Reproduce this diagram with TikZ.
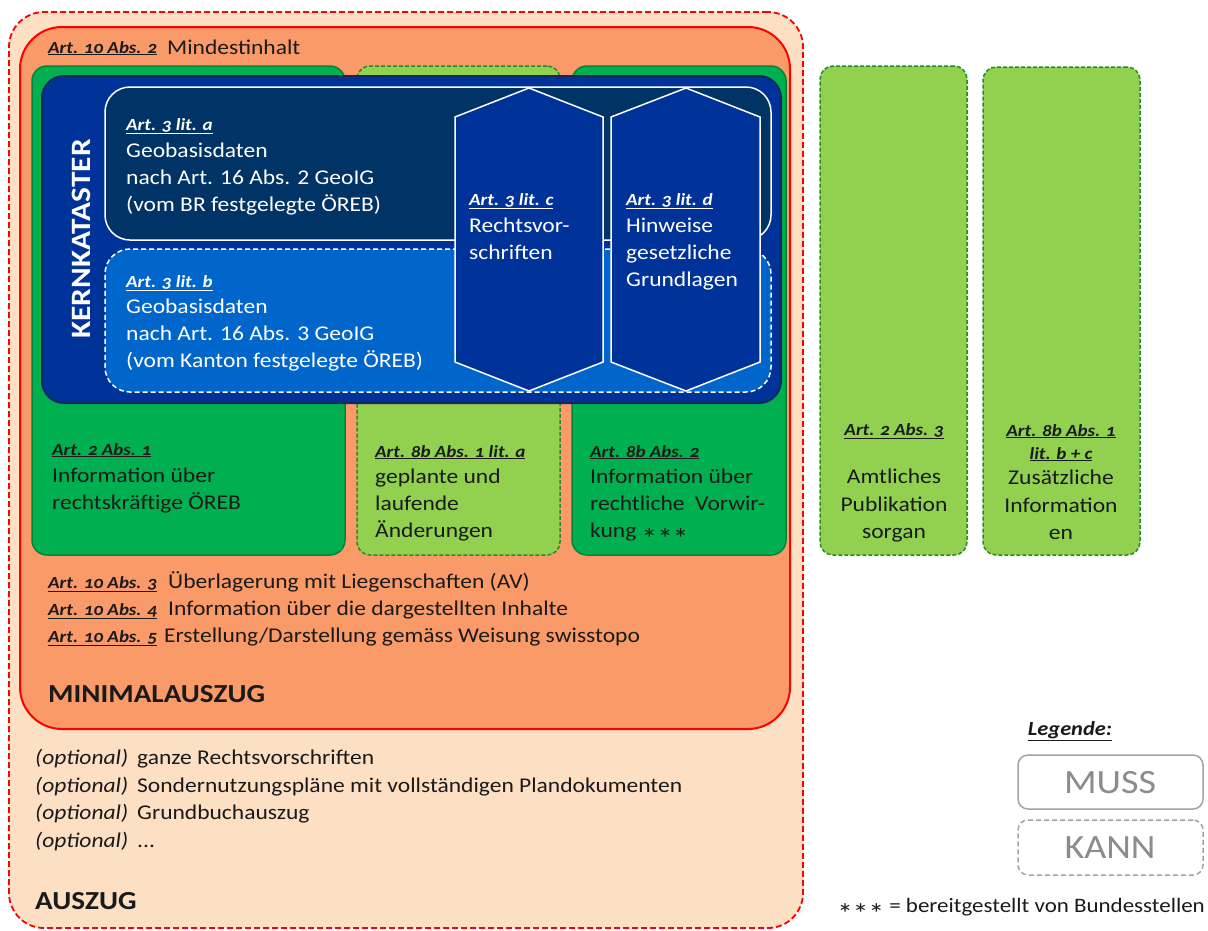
\documentclass[tikz,border=0pt]{standalone}
\usepackage{fontspec}
\setmainfont[FakeStretch=1.12]{Carlito}
\definecolor{peach}{HTML}{FDDFC4}
\definecolor{orng}{HTML}{F99A68}
\definecolor{dgreen}{HTML}{00B050}
\definecolor{dgreenb}{HTML}{00843C}
\definecolor{lgreen}{HTML}{92D050}
\definecolor{lgreenb}{HTML}{2A8A2A}
\definecolor{kblue}{HTML}{003399}
\definecolor{kblueb}{HTML}{15285E}
\definecolor{navy}{HTML}{003366}
\definecolor{mblue}{HTML}{0066CC}
\definecolor{txt}{HTML}{1A1A1A}
\definecolor{leg}{HTML}{8C8C8C}
\newcommand{\art}[1]{\underline{#1}}
\newcommand{\stars}{{\fontsize{28}{30}\selectfont\raisebox{-0.4em}{***}}}
\begin{document}
\begin{tikzpicture}[x=1pt,y=-1pt,
  box/.style={inner sep=0pt, outer sep=0pt, anchor=north west, rectangle},
  solidgreen/.style={box, fill=dgreen, draw=dgreenb, line width=1.5pt, rounded corners=15pt},
  dashgreen/.style={box, fill=lgreen, draw=lgreenb, line width=1.5pt, dash pattern=on 4pt off 2pt, rounded corners=13pt},
  lbl/.style={anchor=base west, inner sep=0pt, text=txt, font=\fontsize{17}{20}\selectfont\bfseries\itshape\addfontfeatures{Numbers=OldStyle}},
  body/.style={anchor=base west, inner sep=0pt, text=txt, font=\fontsize{21}{27}\selectfont},
  wlbl/.style={lbl, text=white},
  wbody/.style={body, text=white},
  clbl/.style={lbl, anchor=base},
  cbody/.style={body, anchor=base},
  hexa/.style={fill=kblue, draw=white, line width=1.5pt, line join=miter},
  legbox/.style={box, fill=white, draw=leg!80, line width=1.5pt, rounded corners=10pt},
  legtxt/.style={anchor=base, inner sep=0pt, text=leg, font=\fontsize{34}{40}\selectfont}
]
\useasboundingbox (0,0) rectangle (1208,930);

% outer AUSZUG
\node[box, fill=peach, draw=red, line width=1.8pt, dash pattern=on 6pt off 3pt, rounded corners=35pt,
      minimum width=794pt, minimum height=916pt] (auszug) at (9,12) {};
% MINIMALAUSZUG
\node[box, fill=orng, draw=red, line width=2pt, rounded corners=42pt,
      minimum width=770pt, minimum height=702pt] (minimal) at (20,27) {};

% green columns
\node[solidgreen, minimum width=313pt, minimum height=489pt] (g1) at (32,66) {};
\node[dashgreen, minimum width=203pt, minimum height=489pt] (g2) at (357,66) {};
\node[solidgreen, minimum width=214pt, minimum height=489pt] (g3) at (572,66) {};

% Kernkataster
\node[box, fill=kblue, draw=kblueb, line width=2pt, rounded corners=22pt,
      minimum width=739pt, minimum height=327pt] (kern) at (42,76) {};
\node[box, fill=navy, draw=white, line width=1.5pt, rounded corners=25pt,
      minimum width=666pt, minimum height=153pt] (lita) at (105,87) {};
\node[box, fill=mblue, draw=white, line width=1.5pt, dash pattern=on 5pt off 3pt, rounded corners=25pt,
      minimum width=666pt, minimum height=143pt] (litb) at (105,249) {};
\draw[hexa] (455,117) -- (529,88) -- (603,117) -- (603,362) -- (529,391) -- (455,362) -- cycle;
\draw[hexa] (611,117) -- (686,88) -- (760,117) -- (760,362) -- (686,391) -- (611,362) -- cycle;

\node[rotate=90, inner sep=0pt, text=white, font=\fontsize{28}{32}\selectfont\bfseries] (kk) at (81,239) {KERNKATASTER};

% right columns
\node[dashgreen, minimum width=147pt, minimum height=489pt] (g4) at (820,66) {};
\node[dashgreen, minimum width=157pt, minimum height=488pt] (g5) at (983,67) {};

% texts: Mindestinhalt
\node[lbl] (l102) at (48,53) {\art{Art. 10 Abs. 2}};
\node[body] (t102) at (167,54) {Mindestinhalt};

% lit a
\node[wlbl] (la0) at (126,130) {\art{Art. 3 lit. a}};
\node[wbody] (la1) at (126,157) {Geobasisdaten};
\node[wbody] (la2) at (126,184) {nach Art. 16 Abs. 2 GeoIG};
\node[wbody] (la3) at (126,211) {(vom BR festgelegte ÖREB)};
% lit b
\node[wlbl] (lb0) at (126,287) {\art{Art. 3 lit. b}};
\node[wbody] (lb1) at (126,313) {Geobasisdaten};
\node[wbody] (lb2) at (126,340) {nach Art. 16 Abs. 3 GeoIG};
\node[wbody] (lb3) at (126,367) {(vom Kanton festgelegte ÖREB)};
% lit c
\node[wlbl] (lc0) at (469,205) {\art{Art. 3 lit. c}};
\node[wbody] (lc1) at (469,232) {Rechtsvor-};
\node[wbody] (lc2) at (469,259) {schriften};
% lit d
\node[wlbl] (ld0) at (626,205) {\art{Art. 3 lit. d}};
\node[wbody] (ld1) at (626,232) {Hinweise};
\node[wbody] (ld2) at (626,259) {gesetzliche};
\node[wbody] (ld3) at (626,286) {Grundlagen};

% green 1
\node[lbl] (g1l) at (52,455) {\art{Art. 2 Abs. 1}};
\node[body] (g1a) at (52,482) {Information über};
\node[body] (g1b) at (52,509) {rechtskräftige ÖREB};
% green 2
\node[lbl] (g2l) at (375,457) {\art{Art. 8b Abs. 1 lit. a}};
\node[body] (g2a) at (375,483) {geplante und};
\node[body] (g2b) at (375,510) {laufende};
\node[body] (g2c) at (375,537) {Änderungen};
% green 3
\node[lbl] (g3l) at (590,457) {\art{Art. 8b Abs. 2}};
\node[body] (g3a) at (590,483) {Information über};
\node[body] (g3b) at (590,510) {rechtliche\ \ Vorwir-};
\node[body] (g3c) at (590,537) {kung \stars};
% green 4
\node[clbl] (g4l) at (894,435) {\art{Art. 2 Abs. 3}};
\node[cbody] (g4a) at (894,483) {Amtliches};
\node[cbody] (g4b) at (894,511) {Publikation};
\node[cbody] (g4c) at (894,538) {sorgan};
% green 5
\node[clbl] (g5l) at (1061,436) {\art{Art. 8b Abs. 1}};
\node[clbl] (g5m) at (1061,459) {\art{lit. b + c}};
\node[cbody] (g5a) at (1061,484) {Zusätzliche};
\node[cbody] (g5b) at (1061,512) {Information};
\node[cbody] (g5c) at (1061,539) {en};

% lower minimal lines
\node[lbl] (l103) at (48,588) {\art{Art. 10 Abs. 3}};
\node[body] (t103) at (168,588) {Überlagerung mit Liegenschaften (AV)};
\node[lbl] (l104) at (48,615) {\art{Art. 10 Abs. 4}};
\node[body] (t104) at (168,615) {Information über die dargestellten Inhalte};
\node[lbl] (l105) at (48,642) {\art{Art. 10 Abs. 5}};
\node[body] (t105) at (164,642) {Erstellung/Darstellung gemäss Weisung swisstopo};
\node[body, font=\fontsize{26}{30}\selectfont\bfseries] (minlbl) at (48,702) {MINIMALAUSZUG};

% optional lines
\node[body, font=\fontsize{21}{27}\selectfont\itshape] (o1) at (35,764) {(optional)};
\node[body] (o1t) at (137,764) {ganze Rechtsvorschriften};
\node[body, font=\fontsize{21}{27}\selectfont\itshape] (o2) at (35,792) {(optional)};
\node[body] (o2t) at (137,792) {Sondernutzungspläne mit vollständigen Plandokumenten};
\node[body, font=\fontsize{21}{27}\selectfont\itshape] (o3) at (35,819) {(optional)};
\node[body] (o3t) at (137,819) {Grundbuchauszug};
\node[body, font=\fontsize{21}{27}\selectfont\itshape] (o4) at (35,847) {(optional)};
\node[body] (o4t) at (137,847) {...};
\node[body, font=\fontsize{26}{30}\selectfont\bfseries] (auslbl) at (35,909) {AUSZUG};

% legend
\node[lbl, anchor=base, font=\fontsize{20}{24}\selectfont\bfseries\itshape] (legt) at (1070,735) {\art{Legende:}};
\node[legbox, minimum width=185pt, minimum height=54pt] (muss) at (1018,755) {};
\node[legtxt] (musst) at (1110,793) {MUSS};
\node[legbox, dash pattern=on 5pt off 3pt, minimum width=185pt, minimum height=55pt] (kann) at (1018,820) {};
\node[legtxt] (kannt) at (1110,858) {KANN};
\node[body, anchor=base east, font=\fontsize{20.5}{24}\selectfont] (stars) at (1205,912) {\stars{} = bereitgestellt von Bundesstellen};
\end{tikzpicture}
\end{document}
